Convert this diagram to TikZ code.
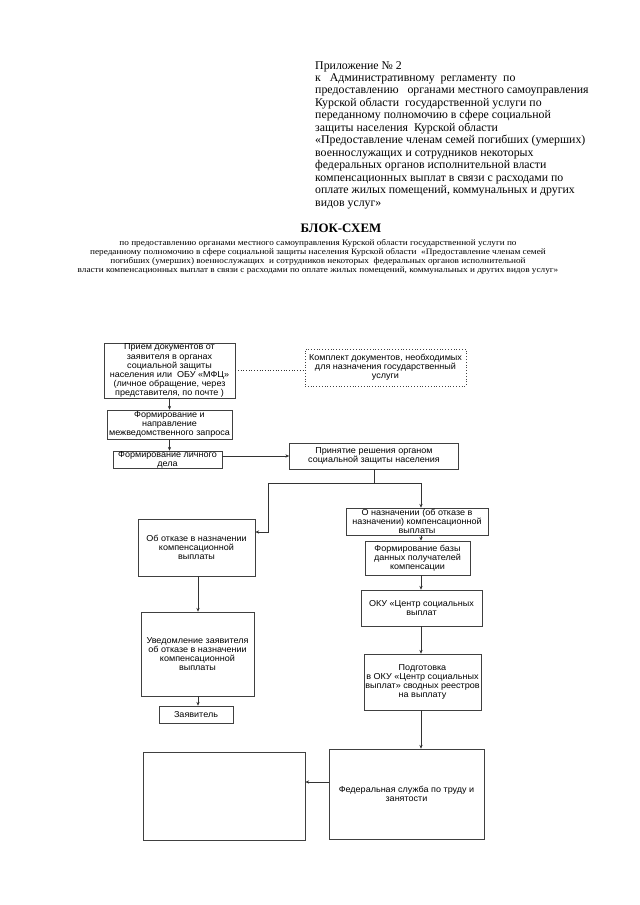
\documentclass[tikz,border=0pt]{standalone}
\usepackage{fontspec}
\setmainfont{Liberation Serif}
\newfontfamily\boxfont[FakeStretch=1.05]{Liberation Sans}
\newfontfamily\subfont[FakeStretch=1.1]{Liberation Serif}
\usetikzlibrary{arrows.meta}
\newcommand\pxu{0.93pt}
\tikzset{
	blk/.style={draw=black!75, line width=0.6pt, rectangle, inner sep=0pt, align=center,
		font=\boxfont\fontsize{8}{8.4}\selectfont},
	sz/.style 2 args={minimum width={#1*\pxu}, minimum height={#2*\pxu}},
	arr/.style={draw=black!80, line width=0.5pt, -{Stealth[length=3.5pt,width=3pt]}},
	ln/.style={draw=black!80, line width=0.5pt},
}
\begin{document}
\begin{tikzpicture}[x=0.93pt,y=-0.93pt]
		\useasboundingbox (0,0) rectangle (640,905);
		% header
		\node[anchor=north west, align=left, inner sep=0pt, font=\fontsize{11}{11.6}\selectfont] (app) at (315,61)
			{Приложение № 2\\
			к~~ Административному~ регламенту~ по\\
			предоставлению~~ органами местного самоуправления\\
			Курской области~ государственной услуги по\\
			переданному полномочию в сфере социальной\\
			защиты населения~ Курской области\\
			«Предоставление членам семей погибших (умерших)\\
			военнослужащих и сотрудников некоторых\\
			федеральных органов исполнительной власти\\
			компенсационных выплат в связи с расходами по\\
			оплате жилых помещений, коммунальных и других\\
			видов услуг»};
		\node[font=\bfseries\fontsize{12}{14}\selectfont] (title) at (341,228) {БЛОК-СХЕМ};
		\node[align=center, inner sep=0pt, font=\subfont\fontsize{7.8}{8.4}\selectfont] (sub) at (318,257)
			{по предоставлению органами местного самоуправления Курской области государственной услуги по\\
			переданному полномочию в сфере социальной защиты населения Курской области~ «Предоставление членам семей\\
			погибших (умерших) военнослужащих~ и сотрудников некоторых~ федеральных органов исполнительной\\
			власти компенсационных выплат в связи с расходами по оплате жилых помещений, коммунальных и других видов услуг»};
		% boxes
		\node[blk, sz={131}{55}] (priem) at (169.5,370.5) {Прием документов от\\ заявителя в органах\\ социальной защиты\\ населения или~ ОБУ «МФЦ»\\ (личное обращение, через\\ представителя, по почте )};
		\node[blk, sz={161}{37}, dotted] (komplekt) at (385.5,367.5) {Комплект документов, необходимых\\ для назначения государственный\\ услуги};
		\node[blk, sz={125}{29}] (zapros) at (169.5,424.5) {Формирование и\\ направление\\ межведомственного запроса};
		\node[blk, sz={109}{17}] (delo) at (167.5,459.5) {Формирование личного\\ дела};
		\node[blk, sz={169}{26}] (reshenie) at (374,456) {Принятие решения органом\\ социальной защиты населения};
		\node[blk, sz={117}{57}] (otkaz) at (196.5,547.5) {Об отказе в назначении\\ компенсационной\\ выплаты};
		\node[blk, sz={142}{27}] (naznach) at (417,521.5) {О назначении (об отказе в\\ назначении) компенсационной\\ выплаты};
		\node[blk, sz={105}{34}] (baza) at (417.5,558) {Формирование базы\\ данных получателей\\ компенсации};
		\node[blk, sz={121}{36}] (oku) at (421.5,608) {ОКУ «Центр социальных\\ выплат};
		\node[blk, sz={117}{56}] (reestr) at (422.5,682) {Подготовка\\ в ОКУ «Центр социальных\\ выплат» сводных реестров\\ на выплату};
		\node[blk, sz={155}{90}] (fed) at (406.5,794) {Федеральная служба по труду и\\ занятости};
		\node[blk, sz={162}{88}] (empty) at (224,796) {};
		\node[blk, sz={113}{84}] (uved) at (197.5,654) {Уведомление заявителя\\ об отказе в назначении\\ компенсационной\\ выплаты};
		\node[blk, sz={74}{17}] (zayav) at (196,714.5) {Заявитель};
		% connectors
		\coordinate (fork) at (374,483);
		\coordinate (lturn) at (268,532);
		\coordinate (rcol) at (421,483);
		\coordinate (lcol) at (198,0);
		\coordinate (fedy) at (0,782);
		\draw[ln, dotted] (priem.east) -- (priem.east -| komplekt.west);
		\draw[arr] (priem.south) -- (zapros.north);
		\draw[arr] (zapros.south) -- (zapros.south |- delo.north);
		\draw[arr] (delo.east |- reshenie.west) -- (reshenie.west);
		\draw[ln] (reshenie.south) -- (fork);
		\draw[arr] (fork) -| (lturn) -- (lturn -| otkaz.east);
		\draw[arr] (fork) -- (rcol) -- (rcol |- naznach.north);
		\draw[arr] (rcol |- naznach.south) -- (rcol |- baza.north);
		\draw[arr] (rcol |- baza.south) -- (rcol |- oku.north);
		\draw[arr] (rcol |- oku.south) -- (rcol |- reestr.north);
		\draw[arr] (rcol |- reestr.south) -- (rcol |- fed.north);
		\draw[arr] (fed.west |- fedy) -- (empty.east |- fedy);
		\draw[arr] (lcol |- otkaz.south) -- (lcol |- uved.north);
		\draw[arr] (lcol |- uved.south) -- (lcol |- zayav.north);
	\end{tikzpicture}
\end{document}
